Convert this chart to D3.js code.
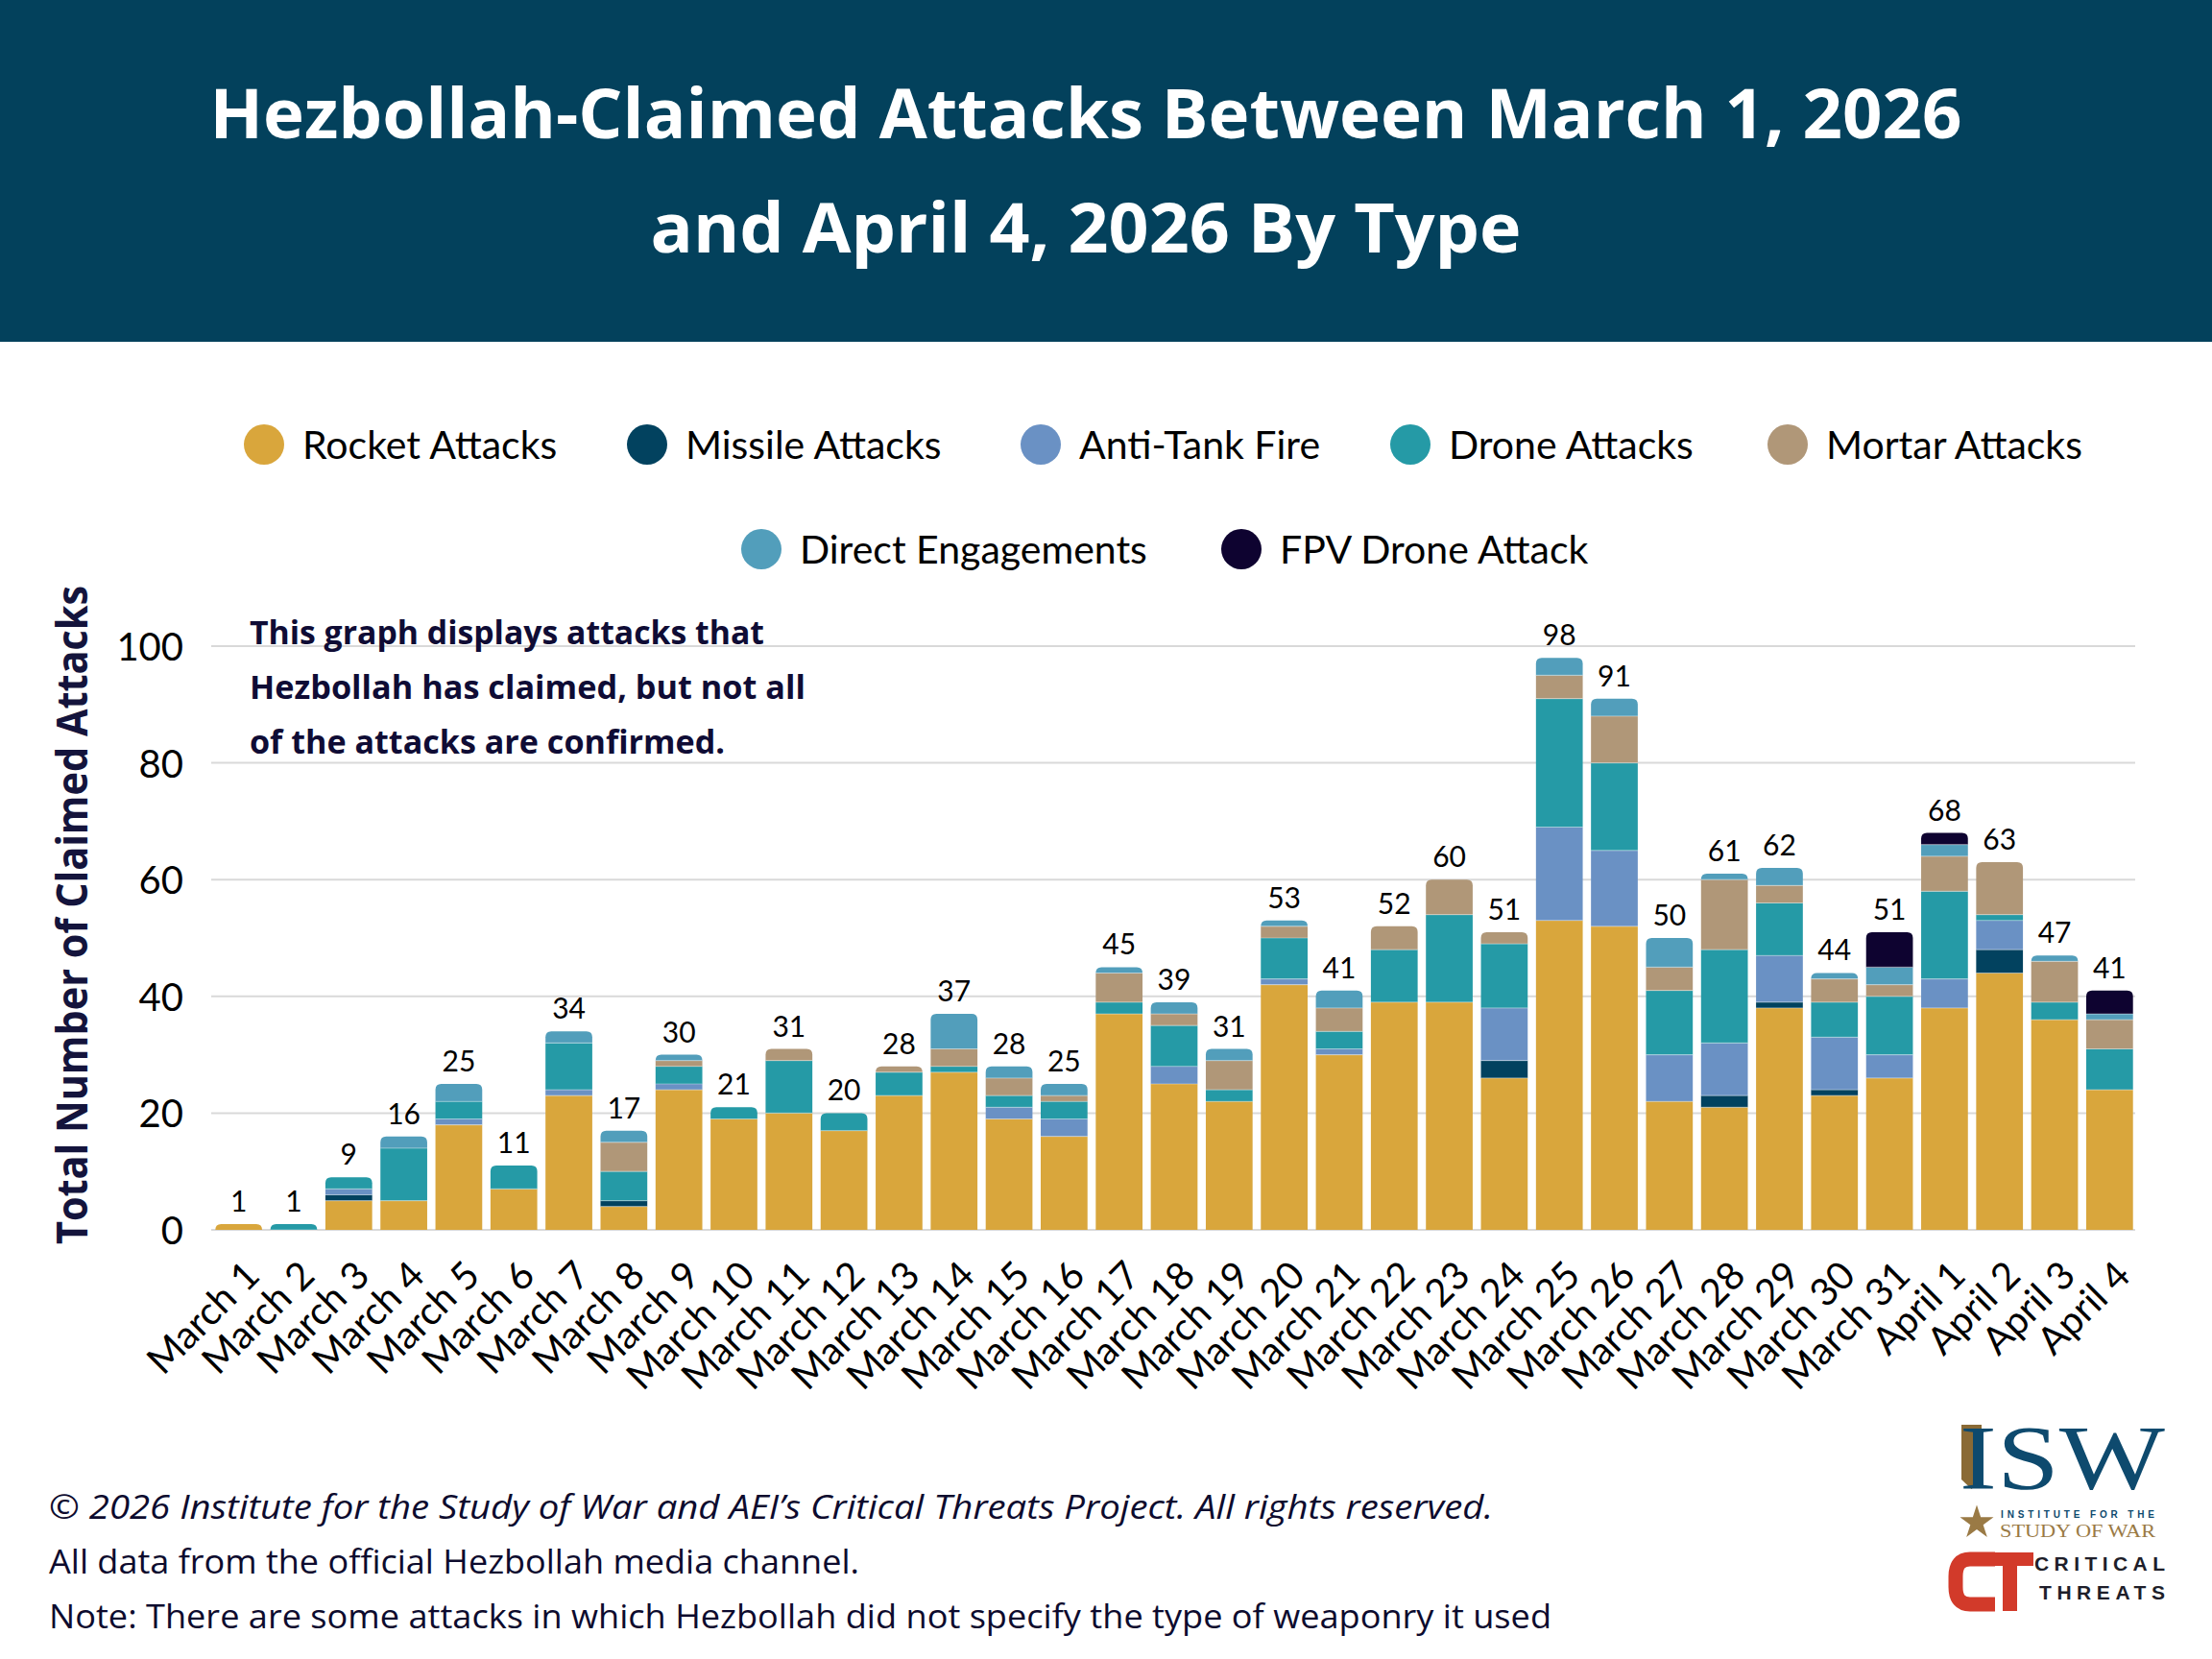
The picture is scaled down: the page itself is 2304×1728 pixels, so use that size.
<!DOCTYPE html>
<html>
<head>
<meta charset="utf-8">
<script src="https://cdn.jsdelivr.net/npm/d3@7"></script>
<style>
html,body{margin:0;padding:0;background:#fff;}
svg{display:block;}
</style>
</head>
<body>
<script>
// ---------------- DATA ----------------
const categories = ["March 1","March 2","March 3","March 4","March 5","March 6","March 7","March 8","March 9","March 10",
  "March 11","March 12","March 13","March 14","March 15","March 16","March 17","March 18","March 19","March 20",
  "March 21","March 22","March 23","March 24","March 25","March 26","March 27","March 28","March 29","March 30",
  "March 31","April 1","April 2","April 3","April 4"];

const seriesNames = ["Rocket Attacks","Missile Attacks","Anti-Tank Fire","Drone Attacks","Mortar Attacks","Direct Engagements","FPV Drone Attack"];

const rocketAttacks   = [1,0,5,5,18,7,23,4,24,19,20,17,23,27,19,16,37,25,22,42,30,39,39,26,53,52,22,21,38,23,26,38,44,36,24];
const missileAttacks  = [0,0,1,0,0,0,0,1,0,0,0,0,0,0,0,0,0,0,0,0,0,0,0,3,0,0,0,2,1,1,0,0,4,0,0];
const antiTankFire    = [0,0,1,0,1,0,1,0,1,0,0,0,0,0,2,3,0,3,0,1,1,0,0,9,16,13,8,9,8,9,4,5,5,0,0];
const droneAttacks    = [0,1,2,9,3,4,8,5,3,2,9,3,4,1,2,3,2,7,2,7,3,9,15,11,22,15,11,16,9,6,10,15,1,3,7];
const mortarAttacks   = [0,0,0,0,0,0,0,5,1,0,2,0,1,3,3,1,5,2,5,2,4,4,6,2,4,8,4,12,3,4,2,6,9,7,5];
const directEngage    = [0,0,0,2,3,0,2,2,1,0,0,0,0,6,2,2,1,2,2,1,3,0,0,0,3,3,5,1,3,1,3,2,0,1,1];
const fpvDroneAttack  = [0,0,0,0,0,0,0,0,0,0,0,0,0,0,0,0,0,0,0,0,0,0,0,0,0,0,0,0,0,0,6,2,0,0,4];

const yTicks = [0,20,40,60,80,100];

const titleLines = ["Hezbollah-Claimed Attacks Between March 1, 2026","and April 4, 2026 By Type"];
const yAxisTitle = "Total Number of Claimed Attacks";
const noteLines = ["This graph displays attacks that","Hezbollah has claimed, but not all","of the attacks are confirmed."];
const footerLines = ["© 2026 Institute for the Study of War and AEI’s Critical Threats Project. All rights reserved.",
  "All data from the official Hezbollah media channel.",
  "Note: There are some attacks in which Hezbollah did not specify the type of weaponry it used"];

// ---------------- STYLE ----------------
const colors = ["#D9A63C","#02425F","#6A91C4","#259AA6","#B09778","#529EBB","#0E0330"];
const W = 2304, H = 1728;

const seriesValues = [rocketAttacks, missileAttacks, antiTankFire, droneAttacks, mortarAttacks, directEngage, fpvDroneAttack];
const table = categories.map((c,i) => {
  const row = {category: c};
  seriesNames.forEach((s,k) => row[s] = seriesValues[k][i]);
  return row;
});

const svg = d3.select("body").append("svg").attr("width",W).attr("height",H);
svg.append("rect").attr("width",W).attr("height",H).attr("fill","#fff");

// Header
svg.append("rect").attr("x",0).attr("y",0).attr("width",W).attr("height",356).attr("fill","#03415C");
const titleLens = [1825, 907];
titleLines.forEach((t,i) => {
  svg.append("text").attr("x",1131).attr("y",[144,263][i])
    .attr("text-anchor","middle").attr("fill","#fff")
    .attr("font-family","'Open Sans', sans-serif").attr("font-weight",700).attr("font-size",72)
    .attr("textLength",titleLens[i]).attr("lengthAdjust","spacingAndGlyphs")
    .text(t);
});

// Legend
const legendPos = [[275,463],[674,463],[1084,463],[1469,463],[1862,463],[793,572],[1293,572]];
const lg = svg.append("g");
seriesNames.forEach((s,k) => {
  const [cx,cy] = legendPos[k];
  lg.append("circle").attr("cx",cx).attr("cy",cy).attr("r",21).attr("fill",colors[k]);
  lg.append("text").attr("x",cx+40).attr("y",cy).attr("dy","0.36em")
    .attr("font-family","Lato, sans-serif").attr("font-size",41).attr("fill","#000")
    .text(s);
});

// Scales
const x = d3.scaleBand().domain(categories).range([222,2224]).paddingInner(0.15).paddingOuter(0.04);
const y = d3.scaleLinear().domain([0,100]).range([1281,673]);

// Gridlines
const grid = svg.append("g");
grid.selectAll("line").data(yTicks).join("line")
  .attr("x1",220).attr("x2",2224)
  .attr("y1",d=>y(d)).attr("y2",d=>y(d))
  .attr("stroke","#d9d9d9").attr("stroke-width",2);

// Y axis tick labels
const yAxis = d3.axisLeft(y).tickValues(yTicks).tickSize(0).tickPadding(0);
const yg = svg.append("g").attr("transform","translate(191,0)").call(yAxis);
yg.select(".domain").remove();
yg.selectAll("text").attr("font-family","Lato, sans-serif").attr("font-size",40).attr("fill","#000").attr("dy","0.36em");

// Y axis title
svg.append("text").attr("transform","translate(91,953) rotate(-90)")
  .attr("text-anchor","middle").attr("font-family","'Open Sans', sans-serif").attr("font-weight",700)
  .attr("font-size",44).attr("fill","#14143C")
  .attr("textLength",686).attr("lengthAdjust","spacingAndGlyphs")
  .text(yAxisTitle);

// Note
const noteLens = [536,579,495];
noteLines.forEach((t,i) => {
  svg.append("text").attr("x",260).attr("y",671+i*57)
    .attr("font-family","'Open Sans', sans-serif").attr("font-weight",700).attr("font-size",34)
    .attr("fill","#0F0C35").attr("textLength",noteLens[i]).attr("lengthAdjust","spacingAndGlyphs")
    .text(t);
});

// Stacked bars
const stack = d3.stack().keys(seriesNames);
const stacked = stack(table);
const topIndex = categories.map((c,i) => {
  let top = -1;
  seriesNames.forEach((s,k) => { if (seriesValues[k][i] > 0) top = k; });
  return top;
});
const bw = x.bandwidth();
const r = 6;
const bars = svg.append("g");
stacked.forEach((layer,k) => {
  layer.forEach((d,i) => {
    if (d[1] - d[0] <= 0) return;
    const x0 = x(categories[i]), y0 = y(d[0]), y1 = y(d[1]);
    if (topIndex[i] === k) {
      const rr = Math.min(r, (y0-y1));
      const p = `M${x0},${y0} L${x0},${y1+rr} Q${x0},${y1} ${x0+rr},${y1} L${x0+bw-rr},${y1} Q${x0+bw},${y1} ${x0+bw},${y1+rr} L${x0+bw},${y0} Z`;
      bars.append("path").attr("d",p).attr("fill",colors[k]);
    } else {
      bars.append("rect").attr("x",x0).attr("y",y1).attr("width",bw).attr("height",y0-y1).attr("fill",colors[k]);
    }
  });
});
// thin separators between segments
stacked.forEach((layer,k) => {
  if (k === 0) return;
  layer.forEach((d,i) => {
    if (d[1] - d[0] <= 0) return;
    bars.append("line").attr("x1",x(categories[i])).attr("x2",x(categories[i])+bw)
      .attr("y1",y(d[0])).attr("y2",y(d[0])).attr("stroke","#ffffff").attr("stroke-opacity",0.35).attr("stroke-width",1.2);
  });
});

// Totals
const totals = categories.map((c,i) => seriesValues.reduce((a,arr)=>a+arr[i],0));
svg.append("g").selectAll("text").data(categories).join("text")
  .attr("x",d=>x(d)+bw/2).attr("y",(d,i)=>y(totals[i])-13)
  .attr("text-anchor","middle").attr("font-family","Lato, sans-serif").attr("font-size",30).attr("fill","#000")
  .text((d,i)=>totals[i]);

// X axis labels
const xAxis = d3.axisBottom(x).tickSize(0).tickPadding(0);
const xg = svg.append("g").attr("transform",`translate(0,${y(0)})`).call(xAxis);
xg.select(".domain").remove();
xg.selectAll("text")
  .attr("font-family","Lato, sans-serif").attr("font-size",40).attr("fill","#000")
  .attr("text-anchor","end").attr("dy","0.35em").attr("y",0)
  .attr("transform","translate(14,40) rotate(-45)");

// Footer
const footLens = [1504,844,1565];
footerLines.forEach((t,i) => {
  svg.append("text").attr("x",51).attr("y",1582+i*57)
    .attr("font-family","'Open Sans', sans-serif").attr("font-size",34)
    .attr("font-style", i===0 ? "italic" : "normal")
    .attr("fill","#0D0B2E").attr("textLength",footLens[i]).attr("lengthAdjust","spacingAndGlyphs")
    .text(t);
});

// ISW logo
const logo = svg.append("g");
logo.append("path").attr("d","M2043,1484 L2064,1484 L2064,1541 L2053.5,1551 L2043,1541 Z").attr("fill","#8A6A35");
logo.append("text").attr("x",2041).attr("y",1551).attr("font-family","'Liberation Serif', serif")
  .attr("font-size",96).attr("fill","#0E4A6E").attr("textLength",214).attr("lengthAdjust","spacingAndGlyphs").text("ISW");
logo.append("path").attr("d",d3.symbol().type(d3.symbolStar).size(380)()).attr("transform","translate(2059,1586)").attr("fill","#9A7A45");
logo.append("text").attr("x",2084).attr("y",1581).attr("font-family","'Liberation Sans', sans-serif").attr("font-weight",700)
  .attr("font-size",10).attr("fill","#0E4A6E").attr("textLength",160).attr("lengthAdjust","spacing").text("INSTITUTE FOR THE");
logo.append("text").attr("x",2083).attr("y",1601).attr("font-family","'Liberation Serif', serif")
  .attr("font-size",18).attr("fill","#9A7A45").attr("textLength",162).attr("lengthAdjust","spacingAndGlyphs").text("STUDY OF WAR");

// Critical Threats logo
const ct = svg.append("g");
ct.append("path").attr("d","M2078,1624 L2052,1624 Q2037,1624 2037,1642 L2037,1653 Q2037,1671 2052,1671 L2078,1671")
  .attr("fill","none").attr("stroke","#D23A2A").attr("stroke-width",15);
ct.append("rect").attr("x",2072).attr("y",1617).attr("width",46).attr("height",14).attr("fill","#D23A2A");
ct.append("rect").attr("x",2086).attr("y",1617).attr("width",15).attr("height",61).attr("fill","#D23A2A");
ct.append("text").attr("x",2119).attr("y",1636).attr("font-family","'Liberation Sans', sans-serif").attr("font-weight",700)
  .attr("font-size",21).attr("fill","#1E1E2A").attr("textLength",136).attr("lengthAdjust","spacing").text("CRITICAL");
ct.append("text").attr("x",2124).attr("y",1666).attr("font-family","'Liberation Sans', sans-serif").attr("font-weight",700)
  .attr("font-size",21).attr("fill","#1E1E2A").attr("textLength",131).attr("lengthAdjust","spacing").text("THREATS");
</script>
</body>
</html>
